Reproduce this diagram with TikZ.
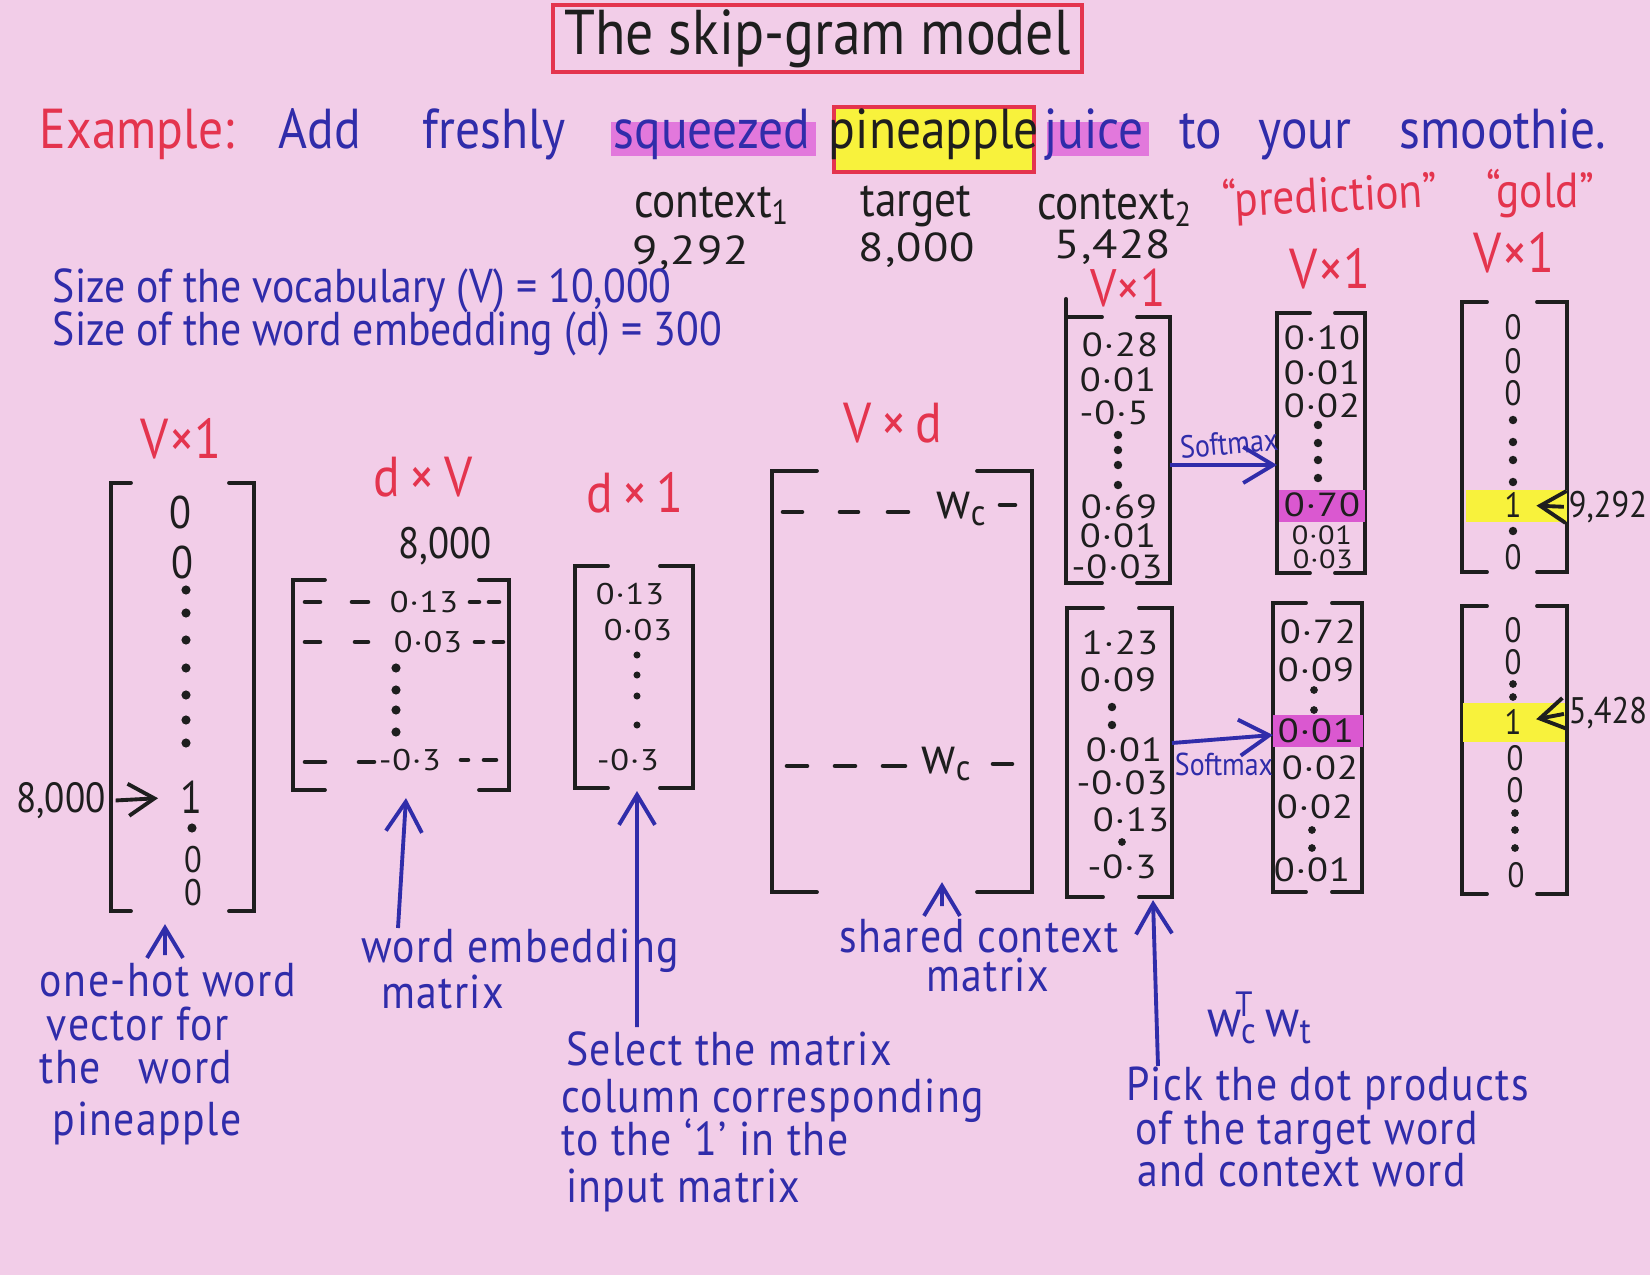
\documentclass[tikz,border=0pt]{standalone}
\usepackage{fontspec}
\setmainfont{PT Sans}[FakeStretch=0.88]
\newfontfamily\numfont{PT Sans}[FakeStretch=1.15, LetterSpace=3]
\usetikzlibrary{arrows.meta}
\definecolor{bg}{RGB}{242,205,232}
\definecolor{ink}{RGB}{30,30,30}
\definecolor{bink}{RGB}{48,44,170}
\definecolor{rink}{RGB}{228,52,78}
\definecolor{hmag}{RGB}{226,120,220}
\definecolor{hmagb}{RGB}{218,88,208}
\definecolor{hyel}{RGB}{248,242,60}
\newcommand\myfs[1]{\fontsize{#1}{#1}\selectfont}
\newcommand\mybrk[3]{%
  \draw[brk] ([xshift=#2]#1.north west) -| (#1.south west) -- ++(#2,0);
  \draw[brk] ([xshift=-#3]#1.north east) -| (#1.south east) -- ++(-#3,0);}
\tikzset{
  tx/.style={inner sep=0pt, outer sep=0pt},
  btxt/.style={tx, text=bink},
  rtxt/.style={tx, text=rink},
  ktxt/.style={tx, text=ink},
  extxt/.style={tx, font=\myfs{16}, anchor=base},
  head/.style={ktxt, font=\myfs{14}, anchor=base},
  num/.style={ktxt, font=\numfont\myfs{11.5}, anchor=base},
  dimlbl/.style={rtxt, font=\myfs{16}, anchor=base},
  sizetxt/.style={btxt, font=\myfs{13.5}, anchor=base west},
  note/.style={btxt, font=\myfs{13.5}\addfontfeature{LetterSpace=3}, anchor=base west},
  val/.style={ktxt, font=\numfont\myfs{9.5}},
  sval/.style={ktxt, font=\numfont\myfs{8.5}},
  tval/.style={ktxt, font=\numfont\myfs{7.5}},
  onehot/.style={ktxt, font=\myfs{12}},
  gz/.style={ktxt, font=\myfs{10}},
  smx/.style={btxt, font=\myfs{9}},
  matbox/.style={draw=none, inner sep=0pt, outer sep=0pt},
  brk/.style={ink, line width=1.1pt, line cap=round},
  dsh/.style={ink, line width=1.3pt, line cap=round},
  barrow/.style={bink, line width=1.1pt, -{Straight Barb[length=3mm,width=3.6mm]}},
  karrow/.style={ink, line width=1.1pt, -{Straight Barb[length=2.6mm,width=3.2mm]}},
}
\begin{document}
\begin{tikzpicture}[x=0.01cm,y=-0.01cm]
\fill[bg] (0,0) rectangle (1650,1275);
\useasboundingbox (0,0) rectangle (1650,1275);

% ---------- title ----------
\node[draw=rink, line width=1.3pt, minimum width=5.29cm, minimum height=0.67cm,
      font=\myfs{18}, text=ink, inner sep=0pt] (title) at (817.5,38.5) {The skip-gram model};

% ---------- example sentence ----------
\fill[hmag] (611,122) rectangle (816,156);
\fill[hmag] (1047,122) rectangle (1149,156);
\node[draw=rink, fill=hyel, line width=1.3pt, minimum width=2.0cm, minimum height=0.65cm, tx] (pinebox) at (934,139.5) {};
\node[extxt, rtxt] (exlbl) at (137,148) {Example:};
\node[extxt, btxt] (wadd) at (320,148) {Add};
\node[extxt, btxt] (wfresh) at (494,148) {freshly};
\node[extxt, btxt] (wsq) at (712,148) {squeezed};
\node[extxt, ktxt] (wpine) at (934,148) {pineapple};
\node[extxt, btxt] (wjuice) at (1094,148) {juice};
\node[extxt, btxt] (wto) at (1201,148) {to};
\node[extxt, btxt] (wyour) at (1305,148) {your};
\node[extxt, btxt] (wsmooth) at (1503,148) {smoothie.};

% ---------- heads ----------
\node[head] (hctx1) at (712,217) {context\textsubscript{1}};
\node[head] (htgt) at (916,216) {target};
\node[head] (hctx2) at (1115,219) {context\textsubscript{2}};
\node[head, rtxt, rotate=3] (hpred) at (1331,212) {“prediction”};
\node[head, rtxt] (hgold) at (1540,207) {“gold”};
\node[num] (n9292) at (691,264) {9,292};
\node[num] (n8000t) at (917,261) {8,000};
\node[num] (n5428) at (1113,258) {5,428};
\node[dimlbl, font=\myfs{15}] (dctx) at (1128,306) {V×1};
\node[dimlbl] (dpred) at (1330,288) {V×1};
\node[dimlbl] (dgold) at (1514,272) {V×1};

\node[sizetxt] (sz1) at (53,302) {Size of the vocabulary (V) = 10,000};
\node[sizetxt] (sz2) at (53,345) {Size of the word embedding (d) = 300};

% ---------- dimension labels ----------
\node[dimlbl] (doh) at (181,458) {V×1};
\node[dimlbl] (ddxv) at (423,496) {d\,×\,V};
\node[ktxt, font=\myfs{12.5}, anchor=base] (n8000m) at (445,558) {8,000};
\node[dimlbl] (ddx1) at (635,512) {d\,×\,1};
\node[dimlbl] (dvxd) at (893,442) {V\,×\,d};

% ---------- matrix frames ----------
\node[matbox, minimum width=1.43cm, minimum height=4.28cm] (oh) at (182.5,697) {};
\node[matbox, minimum width=2.16cm, minimum height=2.10cm] (dxv) at (401,685) {};
\node[matbox, minimum width=1.18cm, minimum height=2.22cm] (dx1) at (634,677) {};
\node[matbox, minimum width=2.60cm, minimum height=4.21cm] (vxd) at (902,681.5) {};
\node[matbox, minimum width=1.04cm, minimum height=2.66cm] (ctx1) at (1118,450) {};
\node[matbox, minimum width=0.88cm, minimum height=2.60cm] (pred1) at (1321,443) {};
\node[matbox, minimum width=1.05cm, minimum height=2.70cm] (gold1) at (1514.5,437) {};
\node[matbox, minimum width=1.05cm, minimum height=2.89cm] (ctx2) at (1119.5,752.5) {};
\node[matbox, minimum width=0.89cm, minimum height=2.89cm] (pred2) at (1317.5,747.5) {};
\node[matbox, minimum width=1.05cm, minimum height=2.88cm] (gold2) at (1514.5,750) {};
\mybrk{oh}{0.2cm}{0.25cm}
\mybrk{dxv}{0.32cm}{0.3cm}
\mybrk{dx1}{0.33cm}{0.33cm}
\mybrk{vxd}{0.45cm}{0.55cm}
\mybrk{ctx1}{0.36cm}{0.33cm}
\mybrk{pred1}{0.33cm}{0.3cm}
\mybrk{gold1}{0.25cm}{0.3cm}
\mybrk{ctx2}{0.36cm}{0.33cm}
\mybrk{pred2}{0.33cm}{0.3cm}
\mybrk{gold2}{0.25cm}{0.3cm}
\draw[brk] (ctx1.north west) -- ++(0,0.18cm);

% ---------- highlights inside vectors ----------
\fill[hmagb] (1279,490) rectangle (1365,522);
\fill[hyel] (1466,490) rectangle (1567,522);
\fill[hmagb] (1273,715) rectangle (1363,747);
\fill[hyel] (1463,703) rectangle (1565,742);

% ---------- one-hot vector ----------
\node[onehot, font=\myfs{13}] (oh0a) at (180,512) {0};
\node[onehot, font=\myfs{13}] (oh0b) at (182,562) {0};
\foreach \y in {590,613,640,668,695,720,743} \fill[ink] (186,\y) circle (1.3pt);
\node[onehot, font=\myfs{13}] (oh1) at (191,797) {1};
\fill[ink] (192,828) circle (1.3pt);
\node[onehot, font=\myfs{10.5}] (oh0c) at (193,860) {0};
\node[onehot, font=\myfs{10.5}] (oh0d) at (193,893) {0};
\node[ktxt, font=\myfs{12}] (n8000l) at (61,801) {8,000};
\draw[karrow, shorten <=0.1cm, shorten >=0.22cm] (n8000l.east) -- (oh1.west);

% ---------- d x V ----------
\draw[dsh] (305,602) -- (320,602) (352,602) -- (368,602) (470,602) -- (479,602) (489,602) -- (499,602);
\node[sval] (v13) at (424,602) {0·13};
\draw[dsh] (305,642) -- (320,642) (355,642) -- (368,642) (475,642) -- (483,642) (494,642) -- (503,642);
\node[sval] (v03) at (428,642) {0·03};
\foreach \y in {668,690,710,732} \fill[ink] (396,\y) circle (1.3pt);
\draw[dsh] (305,762) -- (325,762) (359,762) -- (374,762) (461,760) -- (468,760) (484,760) -- (496,760);
\node[sval] (v3) at (410,760) {-0·3};

% ---------- d x 1 ----------
\node[sval] (x13) at (630,594) {0·13};
\node[sval] (x03) at (638,630) {0·03};
\foreach \y in {655,675,696,725} \fill[ink] (637,\y) circle (1pt);
\node[sval] (x3) at (628,760) {-0·3};

% ---------- V x d ----------
\draw[dsh] (783,512) -- (802,512) (840,512) -- (858,512) (888,512) -- (908,512) (1000,505) -- (1015,505);
\node[ktxt, font=\myfs{15}] (wc1) at (962,509) {w\textsubscript{c}};
\draw[dsh] (787,766) -- (807,766) (835,766) -- (855,766) (883,766) -- (905,766) (993,764) -- (1012,764);
\node[ktxt, font=\myfs{15}] (wc2) at (947,764) {w\textsubscript{c}};

% ---------- context 1 ----------
\node[val] (c1a) at (1120,345) {0·28};
\node[val] (c1b) at (1118,380) {0·01};
\node[val] (c1c) at (1114,413) {-0·5};
\foreach \y in {435,450,465,485} \fill[ink] (1118,\y) circle (1.2pt);
\node[val] (c1d) at (1119,507) {0·69};
\node[val] (c1e) at (1118,536) {0·01};
\node[val] (c1f) at (1117,567) {-0·03};

% ---------- prediction 1 ----------
\node[val] (p1a) at (1322,338) {0·10};
\node[val] (p1b) at (1322,373) {0·01};
\node[val] (p1c) at (1322,406) {0·02};
\foreach \y in {425,443,460,478} \fill[ink] (1318,\y) circle (1.2pt);
\node[val] (p1d) at (1322,505) {0·70};
\node[tval] (p1e) at (1322,535) {0·01};
\node[tval] (p1f) at (1323,559) {0·03};

% ---------- gold 1 ----------
\node[gz] (g1a) at (1513,327) {0};
\node[gz] (g1b) at (1513,361) {0};
\node[gz] (g1c) at (1513,393) {0};
\foreach \y in {420,442,460,482} \fill[ink] (1513,\y) circle (1.2pt);
\node[gz] (g1one) at (1513,505) {1};
\fill[ink] (1513,531) circle (1.2pt);
\node[gz] (g1d) at (1513,557) {0};
\node[ktxt, font=\myfs{10.5}, anchor=east] (n9292r) at (1647,507) {9,292};
\draw[karrow, shorten <=0.05cm, shorten >=0.15cm] (n9292r.west) -- (g1one.east);

% ---------- context 2 ----------
\node[val] (c2a) at (1120,643) {1·23};
\node[val] (c2b) at (1118,680) {0·09};
\foreach \y in {707,725} \fill[ink] (1112,\y) circle (1.2pt);
\node[val] (c2c) at (1124,750) {0·01};
\node[val] (c2d) at (1122,783) {-0·03};
\node[val] (c2e) at (1131,820) {0·13};
\fill[ink] (1122,842) circle (1.1pt);
\node[val] (c2f) at (1122,867) {-0·3};

% ---------- prediction 2 ----------
\node[val] (p2a) at (1318,632) {0·72};
\node[val] (p2b) at (1316,670) {0·09};
\foreach \y in {690,710} \fill[ink] (1314,\y) circle (1.1pt);
\node[val] (p2c) at (1316,731) {0·01};
\node[val] (p2d) at (1320,768) {0·02};
\node[val] (p2e) at (1315,807) {0·02};
\foreach \y in {830,848} \fill[ink] (1312,\y) circle (1.1pt);
\node[val] (p2f) at (1312,870) {0·01};

% ---------- gold 2 ----------
\node[gz] (g2a) at (1513,630) {0};
\node[gz] (g2b) at (1513,662) {0};
\foreach \y in {684,697} \fill[ink] (1513,\y) circle (1.1pt);
\node[gz] (g2one) at (1513,722) {1};
\node[gz] (g2c) at (1515,758) {0};
\node[gz] (g2d) at (1515,790) {0};
\foreach \y in {813,830,848} \fill[ink] (1515,\y) circle (1.1pt);
\node[gz] (g2e) at (1516,875) {0};
\node[ktxt, font=\myfs{10.5}, anchor=east] (n5428r) at (1647,713) {5,428};
\draw[karrow, shorten <=0.05cm, shorten >=0.15cm] (n5428r.west) -- (g2one.east);

% ---------- softmax arrows ----------
\coordinate (sm1) at (1200,465);
\draw[barrow] (ctx1.east |- sm1) -- (pred1.west |- sm1);
\node[smx, rotate=5] (sm1lbl) at (1229,443) {Softmax};
\draw[barrow] ([yshift=0.095cm]ctx2.east) -- ([yshift=0.125cm]pred2.west);
\node[smx] (sm2lbl) at (1224,764) {Softmax};

% ---------- notes ----------
\node[note] (nOH1) at (40,996) {one-hot word};
\node[note] (nOH2) at (47,1040) {vector for};
\node[note] (nOH3) at (40,1083) {the~~~word};
\node[note] (nOH4) at (53,1135) {pineapple};
\coordinate (ohT) at (165,955);
\draw[barrow] (ohT) -- ([xshift=-0.175cm,yshift=-0.13cm]oh.south);

\node[note] (nWE1) at (361,962) {word embedding};
\node[note] (nWE2) at (381,1008) {matrix};
\coordinate (weT) at (398,928);
\draw[barrow] (weT) -- ([xshift=0.05cm,yshift=-0.08cm]dxv.south);

\node[note] (nSel1) at (566,1065) {Select the matrix};
\node[note] (nSel2) at (561,1112) {column corresponding};
\node[note] (nSel3) at (561,1155) {to the ‘1’ in the};
\node[note] (nSel4) at (566,1202) {input matrix};
\coordinate (selT) at (637,1027);
\draw[barrow] (selT) -- ([xshift=0.03cm,yshift=-0.03cm]dx1.south);

\node[note] (nSh1) at (839,952) {shared context};
\node[note] (nSh2) at (926,991) {matrix};
\coordinate (shT) at (942,906);
\draw[barrow] (shT) -- ([xshift=0.40cm,yshift=0.10cm]vxd.south);

\node[note, font=\myfs{15}] (nWT) at (1207,1036) {w\textsubscript{c}\kern-0.42em\raisebox{0.75ex}{\myfs{10}T}\kern0.25em w\textsubscript{t}};
\node[note] (nPk1) at (1126,1100) {Pick the dot products};
\node[note] (nPk2) at (1135,1144) {of the target word};
\node[note] (nPk3) at (1137,1186) {and context word};
\coordinate (pkT) at (1158,1066);
\draw[barrow] (pkT) -- ([xshift=0.335cm,yshift=-0.03cm]ctx2.south);
\end{tikzpicture}
\end{document}
